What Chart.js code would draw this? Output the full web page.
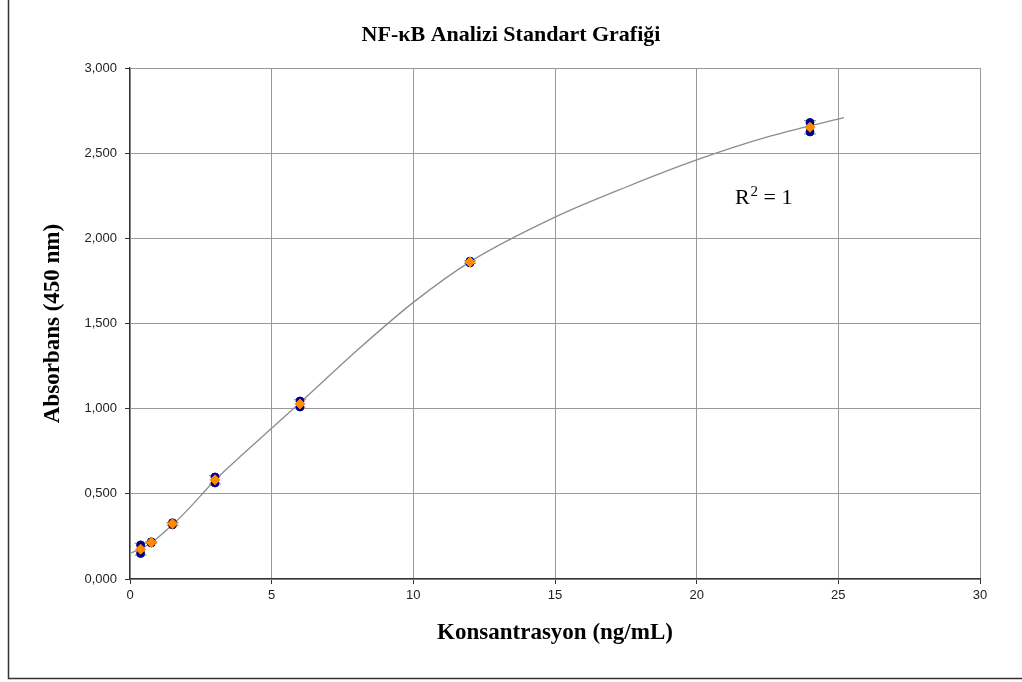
<!DOCTYPE html>
<html>
<head>
<meta charset="utf-8">
<title>NF-κB Analizi Standart Grafiği</title>
<script src="https://cdn.jsdelivr.net/npm/chart.js@4.4.1/dist/chart.umd.min.js"></script>
<style>
  html, body { margin: 0; padding: 0; background: #fff; }
  #wrap { width: 1022px; height: 682px; }
</style>
</head>
<body>
<div id="wrap"><canvas id="stdChart" width="1022" height="682"></canvas></div>
<script>
// standard concentrations (ng/mL)
var conc = [0.375, 0.75, 1.5, 3, 6, 12, 24];
// duplicate absorbance readings at 450 nm
var rep1 = [0.200, 0.218, 0.330, 0.599, 1.045, 1.866, 2.680];
var rep2 = [0.150, 0.212, 0.318, 0.564, 1.010, 1.856, 2.625];
// mean and standard deviation of the duplicates
var meanAbs = [0.175, 0.215, 0.324, 0.582, 1.028, 1.861, 2.652];
var sdAbs = [0.035, 0.004, 0.008, 0.025, 0.025, 0.007, 0.039];

// fitted standard curve
var fitX = [0, 0.375, 0.75, 1, 1.5, 2, 3, 4, 5, 6, 8, 10, 12, 15, 17.5, 20, 22.5, 25.2];
var fitY = [0.150, 0.177, 0.213, 0.245, 0.318, 0.400, 0.580, 0.735, 0.885, 1.035, 1.340, 1.624, 1.862, 2.124, 2.300, 2.460, 2.595, 2.708];

var yTicks = [0, 0.5, 1, 1.5, 2, 2.5, 3];
var xTicks = [0, 5, 10, 15, 20, 25, 30];

var chartTitle = 'NF-κB Analizi Standart Grafiği';
var serif = '"Liberation Serif", "Times New Roman", serif';

function toPoints(xs, ys) {
    return xs.map(function (x, i) { return { x: x, y: ys[i] }; });
}

// white page, outer frame lines and the heading
var framePlugin = {
    id: 'frame',
    beforeDraw: function (chart) {
        var ctx = chart.ctx;
        ctx.save();
        ctx.fillStyle = '#fff';
        ctx.fillRect(0, 0, chart.width, chart.height);
        ctx.strokeStyle = '#333';
        ctx.lineWidth = 1.5;
        ctx.beginPath();
        ctx.moveTo(8.5, 0);
        ctx.lineTo(8.5, 678.5);
        ctx.lineTo(chart.width, 678.5);
        ctx.stroke();

        ctx.fillStyle = '#000';
        ctx.font = 'bold 22px ' + serif;
        ctx.textAlign = 'center';
        ctx.textBaseline = 'middle';
        ctx.fillText(chartTitle, 511, 35);
        ctx.restore();
    }
};

// mean +/- sd bars under the markers
var errorBarPlugin = {
    id: 'errorBars',
    beforeDatasetsDraw: function (chart) {
        var ctx = chart.ctx;
        var xs = chart.scales.x, ys = chart.scales.y;
        ctx.save();
        ctx.strokeStyle = '#8a8a8a';
        ctx.lineWidth = 1;
        for (var i = 0; i < conc.length; i++) {
            var px = xs.getPixelForValue(conc[i]);
            var top = ys.getPixelForValue(meanAbs[i] + sdAbs[i]);
            var bot = ys.getPixelForValue(meanAbs[i] - sdAbs[i]);
            ctx.beginPath();
            ctx.moveTo(px, top); ctx.lineTo(px, bot);
            ctx.moveTo(px - 6, top); ctx.lineTo(px + 6, top);
            ctx.moveTo(px - 6, bot); ctx.lineTo(px + 6, bot);
            ctx.stroke();
        }
        ctx.restore();
    }
};

// R² label for the fit
var rSquaredPlugin = {
    id: 'rSquared',
    afterDatasetsDraw: function (chart) {
        var ctx = chart.ctx;
        var px = chart.scales.x.getPixelForValue(21.35);
        var py = chart.scales.y.getPixelForValue(2.237);
        ctx.save();
        ctx.fillStyle = '#000';
        ctx.textBaseline = 'middle';
        ctx.font = '22px ' + serif;
        ctx.fillText('R', px, py);
        var w = ctx.measureText('R').width;
        ctx.font = '15px ' + serif;
        ctx.fillText('2', px + w + 1, py - 6);
        var w2 = ctx.measureText('2').width;
        ctx.font = '22px ' + serif;
        ctx.fillText(' = 1', px + w + w2 + 1, py);
        ctx.restore();
    }
};

var ctx = document.getElementById('stdChart').getContext('2d');
var chart = new Chart(ctx, {
    type: 'scatter',
    data: {
        datasets: [
            {
                label: 'Ortalama',
                data: toPoints(conc, meanAbs),
                pointStyle: 'rectRot',
                pointRadius: 5,
                backgroundColor: '#ff8c00',
                borderColor: '#ff8c00',
                order: 0
            },
            {
                label: 'Tekrar 1',
                data: toPoints(conc, rep1),
                pointRadius: 4,
                backgroundColor: '#000090',
                borderColor: '#000090',
                order: 1
            },
            {
                label: 'Tekrar 2',
                data: toPoints(conc, rep2),
                pointRadius: 4,
                backgroundColor: '#000090',
                borderColor: '#000090',
                order: 1
            },
            {
                label: 'Eğri',
                data: toPoints(fitX, fitY),
                showLine: true,
                pointRadius: 0,
                borderColor: '#8c8c8c',
                borderWidth: 1.3,
                cubicInterpolationMode: 'monotone',
                order: 2
            }
        ]
    },
    options: {
        responsive: false,
        animation: false,
        layout: { padding: { left: 0, right: 42, top: 68, bottom: 0 } },
        plugins: {
            legend: { display: false },
            tooltip: { enabled: false },
            title: { display: false }
        },
        scales: {
            x: {
                type: 'linear',
                min: 0,
                max: 30,
                afterBuildTicks: function (scale) {
                    scale.ticks = xTicks.map(function (v) { return { value: v }; });
                },
                afterFit: function (scale) { scale.height = 103; },
                ticks: {
                    color: '#222',
                    padding: 4,
                    font: { family: '"Liberation Sans", Arial, sans-serif', size: 13 }
                },
                grid: { color: '#9a9a9a', lineWidth: 1, tickLength: 5, tickColor: '#333' },
                border: { color: '#333', width: 1.2 },
                title: {
                    display: true,
                    text: 'Konsantrasyon (ng/mL)',
                    color: '#000',
                    font: { family: serif, size: 23, weight: 'bold' },
                    padding: { top: 0, bottom: 35 }
                }
            },
            y: {
                type: 'linear',
                min: 0,
                max: 3,
                afterBuildTicks: function (scale) {
                    scale.ticks = yTicks.map(function (v) { return { value: v }; });
                },
                afterFit: function (scale) { scale.width = 130; },
                ticks: {
                    color: '#222',
                    padding: 8,
                    font: { family: '"Liberation Sans", Arial, sans-serif', size: 13 },
                    callback: function (v) { return v.toFixed(3).replace('.', ','); }
                },
                grid: { color: '#9a9a9a', lineWidth: 1, tickLength: 5, tickColor: '#333' },
                border: { color: '#333', width: 1.2 },
                title: {
                    display: true,
                    text: 'Absorbans (450 nm)',
                    color: '#000',
                    font: { family: serif, size: 23, weight: 'bold' },
                    padding: { top: 39, bottom: 0 }
                }
            }
        }
    },
    plugins: [framePlugin, errorBarPlugin, rSquaredPlugin]
});
</script>
</body>
</html>
